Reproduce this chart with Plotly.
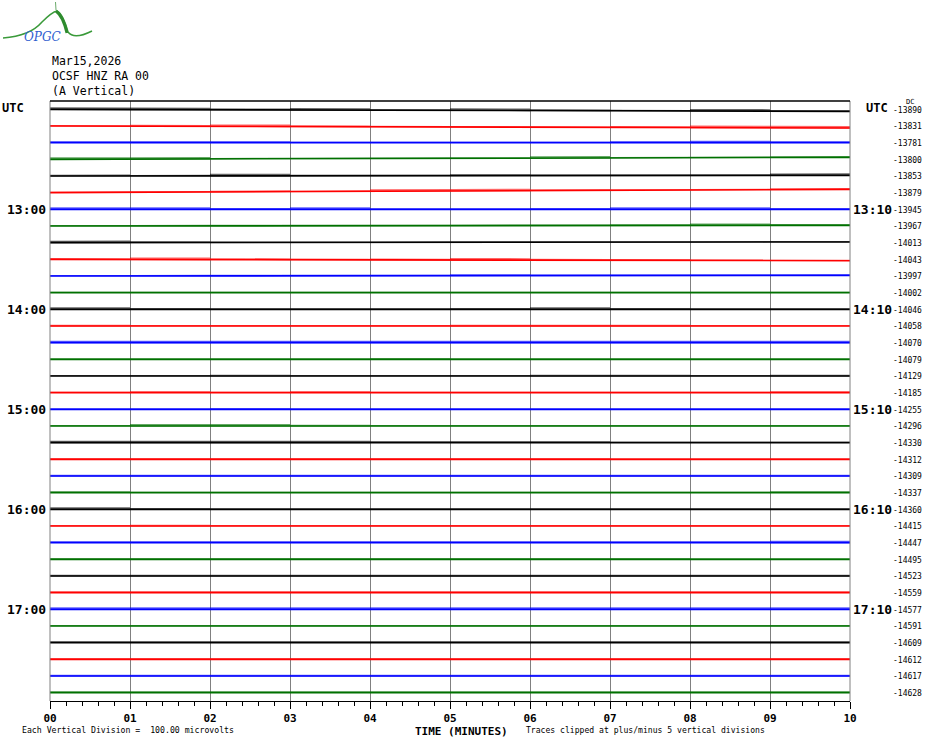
import plotly.graph_objects as go

# ---------------- data ----------------
header_lines = ["Mar15,2026", "OCSF HNZ RA 00", "(A Vertical)"]
left_labels = ["UTC", "13:00", "14:00", "15:00", "16:00", "17:00"]
right_labels = ["UTC", "13:10", "14:10", "15:10", "16:10", "17:10"]
minute_labels = ["00", "01", "02", "03", "04", "05", "06", "07", "08", "09", "10"]
dc_values = [-13890, -13831, -13781, -13800, -13853, -13879,
             -13945, -13967, -14013, -14043, -13997, -14002,
             -14046, -14058, -14070, -14079, -14129, -14185,
             -14255, -14296, -14330, -14312, -14309, -14337,
             -14360, -14415, -14447, -14495, -14523, -14559,
             -14577, -14591, -14609, -14612, -14617, -14628]
trace_colors = ["#000000", "#ff0000", "#0000ff", "#007000"]
# baseline drift over the 10-minute line (microvolts, positive = up)
drift_end = [-12, -12, 0, 12, 4, 20, 0, 4, 4, -8, 4, 0,
             0, 0, 0, 0, 0, 0, 0, 0, 0, 0, 0, 0,
             0, 0, 0, 0, 0, 0, 0, 0, 0, 0, 0, 0]
# noise peak amplitude per minute (microvolts)
noise = [
    [12, 12, 8, 12, 6, 12, 8, 6, 12, 6],
    [6, 8, 12, 8, 6, 6, 6, 8, 12, 12],
    [8, 8, 8, 6, 6, 6, 6, 8, 12, 8],
    [12, 12, 6, 6, 6, 6, 12, 6, 6, 8],
    [8, 6, 12, 6, 6, 8, 6, 6, 6, 12],
    [6, 6, 8, 6, 12, 12, 8, 6, 6, 8],
    [12, 12, 8, 12, 6, 6, 8, 12, 12, 8],
    [6, 6, 6, 6, 6, 6, 6, 8, 12, 8],
    [12, 8, 6, 6, 6, 6, 6, 6, 6, 6],
    [8, 12, 8, 6, 8, 12, 8, 8, 6, 6],
    [6, 6, 6, 6, 6, 8, 6, 6, 6, 6],
    [6, 6, 6, 6, 6, 6, 6, 6, 6, 6],
    [12, 8, 6, 6, 6, 8, 12, 8, 6, 6],
    [8, 6, 6, 6, 6, 8, 8, 8, 6, 6],
    [12, 12, 12, 12, 12, 12, 12, 12, 12, 12],
    [6, 6, 6, 6, 8, 6, 6, 6, 6, 6],
    [6, 6, 8, 6, 6, 6, 8, 8, 6, 8],
    [6, 8, 6, 8, 6, 6, 6, 6, 6, 8],
    [6, 6, 8, 6, 6, 6, 6, 6, 6, 6],
    [6, 12, 12, 8, 6, 6, 6, 6, 6, 6],
    [12, 12, 12, 12, 8, 8, 8, 6, 6, 6],
    [8, 8, 8, 8, 8, 8, 8, 6, 6, 6],
    [8, 8, 8, 8, 8, 8, 8, 8, 8, 8],
    [8, 6, 6, 6, 6, 6, 6, 6, 6, 8],
    [12, 8, 6, 6, 6, 6, 6, 6, 6, 6],
    [6, 8, 6, 6, 6, 6, 6, 6, 6, 6],
    [8, 8, 8, 8, 8, 8, 8, 8, 8, 12],
    [8, 8, 8, 8, 8, 8, 8, 8, 6, 6],
    [8, 8, 8, 8, 8, 8, 8, 8, 8, 8],
    [8, 8, 8, 8, 8, 8, 8, 8, 8, 8],
    [12, 12, 12, 12, 12, 12, 12, 12, 12, 12],
    [6, 6, 6, 6, 6, 6, 6, 6, 6, 6],
    [8, 8, 8, 8, 8, 8, 8, 8, 8, 8],
    [8, 8, 8, 8, 8, 8, 8, 8, 8, 8],
    [8, 8, 8, 8, 8, 8, 8, 8, 8, 8],
    [8, 8, 8, 8, 8, 8, 8, 8, 8, 8],
]
uv_per_division = 100.0

# ---------------- figure ----------------
W, H = 930, 744
ML, MR, MT, MB = 50, 80, 101, 43
PW, PH = W - ML - MR, H - MT - MB
n = len(dc_values)

def px(x):
    return (x - ML) / PW

def py(y):
    return (H - MB - y) / PH

fig = go.Figure()
for i in range(n):
    col = trace_colors[i % 4]
    d = drift_end[i]
    xs_up, ys_up = [], []
    for k, a in enumerate(noise[i]):
        for xx in (k, k + 1):
            xs_up.append(xx)
            ys_up.append(i - (d * xx / 10 + a) / uv_per_division)
    xs_lo, ys_lo = [], []
    for k in range(len(noise[i]) - 1, -1, -1):
        a = noise[i][k]
        for xx in (k + 1, k):
            xs_lo.append(xx)
            ys_lo.append(i - (d * xx / 10 - a * 0.3) / uv_per_division)
    fig.add_trace(go.Scatter(x=xs_up + xs_lo, y=ys_up + ys_lo, fill="toself",
                             fillcolor=col, opacity=0.6, mode="none",
                             hoverinfo="skip", showlegend=False))
    fig.add_trace(go.Scatter(x=[0, 10], y=[i, i - d / uv_per_division],
                             mode="lines", line=dict(color=col, width=1.6),
                             hoverinfo="skip", showlegend=False))

mono = "DejaVu Sans Mono"
fig.update_xaxes(range=[0, 10], showgrid=True, gridcolor="#808080", gridwidth=1,
                 tickvals=list(range(11)), ticktext=minute_labels,
                 ticks="outside", ticklen=7, tickcolor="black", tickwidth=1,
                 minor=dict(ticks="outside", ticklen=4, dtick=0.2, tickcolor="black", showgrid=False),
                 showline=True, linecolor="black", linewidth=1,
                 tickfont=dict(family=mono, size=11, color="black", weight="bold"),
                 zeroline=False)
fig.update_yaxes(range=[n - 0.5, -0.5], showgrid=False, showticklabels=False,
                 ticks="", zeroline=False, showline=False)

shapes = [
    dict(type="line", xref="paper", yref="paper", x0=0, x1=0, y0=0, y1=1, line=dict(color="#808080", width=1)),
    dict(type="line", xref="paper", yref="paper", x0=1, x1=1, y0=0, y1=1, line=dict(color="#808080", width=1)),
    dict(type="line", xref="paper", yref="paper", x0=0, x1=1, y0=1, y1=1, line=dict(color="black", width=1.5)),
]
# logo
logo_path = "M {},{} Q {},{} {},{} Q {},{} {},{} Q {},{} {},{} Q {},{} {},{}".format(
    px(3), py(38), px(30), py(36), px(42), py(22),
    px(52), py(12), px(57), py(11),
    px(63), py(14), px(68), py(32),
    px(74), py(40), px(92), py(31))
shapes.append(dict(type="path", xref="paper", yref="paper", path=logo_path,
                   line=dict(color="#3a9a3a", width=1.5)))
shapes.append(dict(type="path", xref="paper", yref="paper",
                   path="M {},{} Q {},{} {},{}".format(px(56), py(11), px(63), py(16), px(67), py(33)),
                   line=dict(color="#2e8b2e", width=3)))
shapes.append(dict(type="line", xref="paper", yref="paper", x0=px(55.5), x1=px(56), y0=py(2), y1=py(10),
                   line=dict(color="#6aaa6a", width=1)))
fig.update_layout(shapes=shapes)

ann = []
ann.append(dict(text="OPGC", xref="paper", yref="paper", x=px(22), y=py(37), xanchor="left", yanchor="middle",
                showarrow=False, font=dict(family="DejaVu Serif", size=12, color="#3060d0", style="italic")))
for j, t in enumerate(header_lines):
    ann.append(dict(text=t, xref="paper", yref="paper", x=0, y=py(61 + 15 * j), xanchor="left",
                    yanchor="middle", showarrow=False, font=dict(family=mono, size=11.5, color="black")))
for j, t in enumerate(left_labels):
    if j == 0:
        ann.append(dict(text=t, xref="paper", yref="y", x=px(0), y=6 * j - 0.1, xanchor="left",
                        yanchor="middle", showarrow=False,
                        font=dict(family=mono, size=12, color="black", weight="bold")))
    else:
        ann.append(dict(text=t, xref="paper", yref="y", x=px(48), y=6 * j, xanchor="right",
                        yanchor="middle", showarrow=False,
                        font=dict(family=mono, size=13, color="black", weight="bold")))
for j, t in enumerate(right_labels):
    if j == 0:
        ann.append(dict(text=t, xref="paper", yref="y", x=px(864), y=6 * j - 0.1, xanchor="left",
                        yanchor="middle", showarrow=False,
                        font=dict(family=mono, size=12, color="black", weight="bold")))
    else:
        ann.append(dict(text=t, xref="paper", yref="y", x=px(851), y=6 * j, xanchor="left",
                        yanchor="middle", showarrow=False,
                        font=dict(family=mono, size=13, color="black", weight="bold")))
for i, v in enumerate(dc_values):
    ann.append(dict(text=str(v), xref="paper", yref="y", x=px(924), y=i + 0.05, xanchor="right",
                    yanchor="middle", showarrow=False, font=dict(family=mono, size=8, color="black")))
ann.append(dict(text="DC", xref="paper", yref="paper", x=px(910), y=py(102), xanchor="center",
                yanchor="middle", showarrow=False, font=dict(family=mono, size=7, color="black")))
ann.append(dict(text="TIME (MINUTES)", xref="paper", yref="paper", x=px(413), y=py(731), xanchor="left",
                yanchor="middle", showarrow=False,
                font=dict(family=mono, size=11, color="black", weight="bold")))
ann.append(dict(text="Each Vertical Division =  100.00 microvolts", xref="paper", yref="paper", x=px(20),
                y=py(730), xanchor="left", yanchor="middle", showarrow=False,
                font=dict(family=mono, size=8.2, color="black")))
ann.append(dict(text="Traces clipped at plus/minus 5 vertical divisions", xref="paper", yref="paper",
                x=px(524), y=py(730), xanchor="left", yanchor="middle", showarrow=False,
                font=dict(family=mono, size=8.1, color="black")))
fig.update_layout(annotations=ann)

fig.update_layout(width=W, height=H, margin=dict(l=ML, r=MR, t=MT, b=MB, pad=0),
                  paper_bgcolor="white", plot_bgcolor="white", showlegend=False)
fig.write_html("out.html", config={"displayModeBar": False},
               post_script="document.body.style.margin='0';document.body.style.overflow='hidden';")
